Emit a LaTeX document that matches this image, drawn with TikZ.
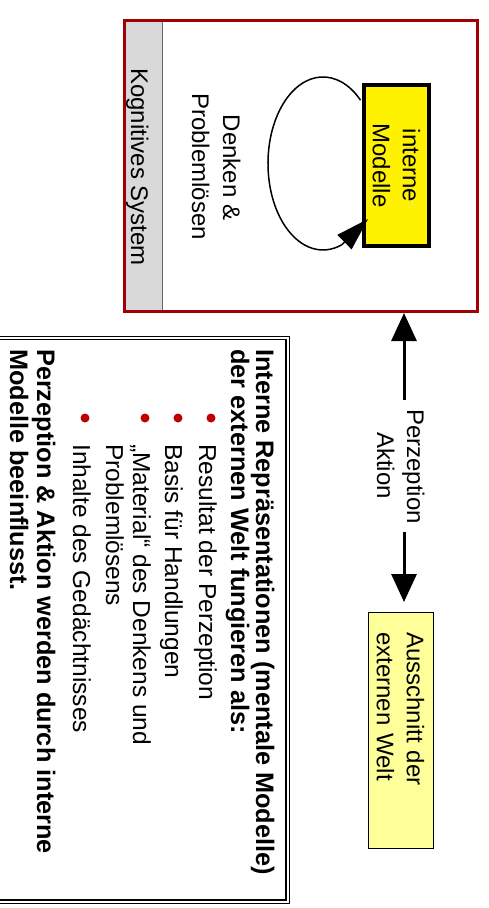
\documentclass[tikz,border=0pt]{standalone}
\usepackage{fontspec}
\setmainfont{Liberation Sans}
\usetikzlibrary{arrows.meta,calc}
\definecolor{boxred}{RGB}{160,0,0}
\definecolor{bulred}{RGB}{192,0,0}
\definecolor{lyellow}{RGB}{255,255,153}
\definecolor{stripgray}{RGB}{217,217,217}
\begin{document}
\begin{tikzpicture}[x=1pt,y=-1pt,
  txt/.style={font=\fontsize{24}{30}\selectfont, inner sep=0pt, rotate=-90},
  blk/.style={font=\fontsize{24.5}{27}\selectfont, inner sep=0pt, rotate=-90, anchor=base west},
  bld/.style={blk, font=\fontsize{25.3}{25}\selectfont\bfseries},
  bul/.style={circle, fill=bulred, inner sep=0pt, minimum size=9pt},
  bigarrow/.style={line width=3pt, -{Triangle[length=28pt,width=25pt]}},
  loopline/.style={line width=1.5pt},
]
\useasboundingbox (0,0) rectangle (488,908);
\fill[white] (0,0) rectangle (488,908);

% kognitives system
\fill[stripgray] (124.5,20.5) rectangle (162,311.5);
\draw[black!60, line width=1pt] (162,20.5) -- (162,311.5);
\node[draw=boxred, line width=3pt, minimum width=353pt, minimum height=291pt, inner sep=0pt] (kog) at (301,166) {};
\node[txt, anchor=base] (kogtxt) at (131,167) {Kognitives System};
\node[txt, anchor=base] (denk1) at (223,167.5) {Denken \&};
\node[txt, anchor=base] (denk2) at (192,166.5) {Problemlösen};

% loop
\coordinate (loopS) at (360.5,100.2);
\coordinate (loopT) at (368,219);
\draw[loopline] (loopS) arc[start angle=47, end angle=290, x radius=55pt, y radius=86.5pt] coordinate (loopE);

\node[txt, draw=black, fill=yellow, line width=3.5pt, minimum width=161pt, minimum height=65pt, align=center] (imod) at (396.5,165.5) {interne\\Modelle};

\draw[loopline, -{Triangle[length=33pt,width=20pt]}] (loopE) -- (loopT);

% perzeption / aktion
\node[txt, anchor=base] (perz) at (407,466.5) {Perzeption};
\node[txt, anchor=base] (akt) at (377,465.5) {Aktion};
\coordinate (pa1) at (404,400);
\coordinate (pa2) at (404,532);
\coordinate (pa3) at (404,602);
\draw[bigarrow] (pa1) -- (pa1 |- kog.south);
\draw[bigarrow] (pa2) -- (pa3);

\node[txt, draw=black, fill=lyellow, line width=1pt, minimum width=236pt, minimum height=65pt, text width=196pt, align=left] (welt) at (400.5,730) {Ausschnitt der\\externen Welt};

% text block
\draw[line width=0.8pt] (-5,336.5) -- (289,336.5) -- (289,903) -- (-5,903);
\draw[line width=1.5pt] (-5,339.5) -- (286,339.5) -- (286,900) -- (-5,900);

\node[bld] (h1) at (256,349) {Interne Repräsentationen (mentale Modelle)};
\node[bld] (h2) at (231,349) {der externen Welt fungieren als:};
\node[bul] (b1) at (211,418) {};
\node[blk] (t1) at (199,444) {Resultat der Perzeption};
\node[bul] (b2) at (178,418) {};
\node[blk] (t2) at (165,444) {Basis für Handlungen};
\node[bul] (b3) at (145,418) {};
\node[blk] (t3a) at (133,444) {„Material“ des Denkens und};
\node[blk] (t3b) at (106,444) {Problemlösens};
\node[bul] (b4) at (85,418) {};
\node[blk] (t4) at (73,444) {Inhalte des Gedächtnisses};
\node[bld] (f1) at (37,349) {Perzeption \& Aktion werden durch interne};
\node[bld] (f2) at (10,349) {Modelle beeinflusst.};
\end{tikzpicture}
\end{document}
